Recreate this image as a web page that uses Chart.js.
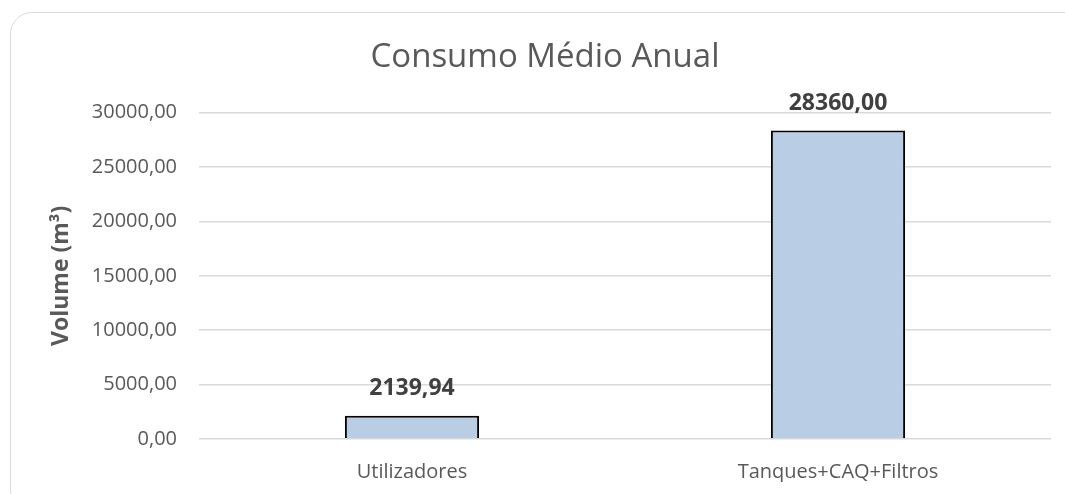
<!DOCTYPE html>
<html>
<head>
<meta charset="utf-8">
<script src="https://cdn.jsdelivr.net/npm/chart.js@4.4.1/dist/chart.umd.min.js"></script>
<style>
  html, body { margin: 0; padding: 0; background: #fff; overflow: hidden; }
  body { width: 1065px; height: 494px; position: relative; }
  .card {
    position: absolute; left: 10px; top: 12px; width: 1080px; height: 500px;
    border: 1.5px solid #d9d9d9; border-radius: 22px; box-sizing: border-box;
  }
  .wrap { position: absolute; left: 0; top: 0; width: 1065px; height: 494px; }
</style>
</head>
<body>
<div class="card"></div>
<div class="wrap"><canvas id="chart"></canvas></div>
<script>
/* ─────────────────────────────────────────────
   Data
───────────────────────────────────────────── */
const categories = ['Utilizadores', 'Tanques+CAQ+Filtros'];
const volumes = [2139.94, 28360.00];
const yTicks = [0, 5000, 10000, 15000, 20000, 25000, 30000];

const fontFamily = '"Open Sans", "Liberation Sans", sans-serif';
const textGrey = '#595959';

const fmt = (v) => v.toFixed(2).replace('.', ',');

/* ─────────────────────────────────────────────
   Value labels above bars
───────────────────────────────────────────── */
const barLabels = {
  id: 'barLabels',
  afterDatasetsDraw(chart) {
    const { ctx } = chart;
    const meta = chart.getDatasetMeta(0);
    ctx.save();
    ctx.font = 'bold 23px ' + fontFamily;
    ctx.fillStyle = '#404040';
    ctx.textAlign = 'center';
    ctx.textBaseline = 'middle';
    meta.data.forEach((bar, i) => {
      ctx.fillText(fmt(volumes[i]), bar.x, bar.y - 27);
    });
    ctx.restore();
  }
};

new Chart(document.getElementById('chart'), {
  type: 'bar',
  data: {
    labels: categories,
    datasets: [{
      data: volumes,
      backgroundColor: '#B9CDE5',
      borderColor: '#000000',
      borderWidth: 2,
      categoryPercentage: 1,
      barPercentage: 0.315,
    }]
  },
  plugins: [barLabels],
  options: {
    responsive: true,
    maintainAspectRatio: false,
    animation: false,
    layout: { padding: { left: 39, right: 14, top: 0, bottom: 12 } },
    plugins: {
      legend: { display: false },
      tooltip: { enabled: false },
      title: {
        display: true,
        text: 'Consumo Médio Anual',
        color: textGrey,
        font: { family: fontFamily, size: 33, weight: 'normal' },
        padding: { top: 38, bottom: 35 }
      }
    },
    scales: {
      x: {
        grid: { display: false },
        border: { display: false },
        ticks: { color: textGrey, font: { family: fontFamily, size: 20 }, padding: 13 },
        afterFit: (s) => { s.height = 43; }
      },
      y: {
        min: 0,
        max: 30000,
        afterBuildTicks: (s) => { s.ticks = yTicks.map(v => ({ value: v })); },
        grid: { color: '#d9d9d9', lineWidth: 1.5, drawTicks: false },
        border: { display: false },
        ticks: {
          color: textGrey,
          font: { family: fontFamily, size: 20 },
          padding: 22,
          callback: (v) => fmt(v)
        },
        title: {
          display: true,
          text: 'Volume (m³)',
          color: textGrey,
          font: { family: fontFamily, size: 23, weight: 'bold' },
          padding: { top: 9, bottom: 0 }
        },
        afterFit: (s) => { s.width = 160; }
      }
    }
  }
});
</script>
</body>
</html>
